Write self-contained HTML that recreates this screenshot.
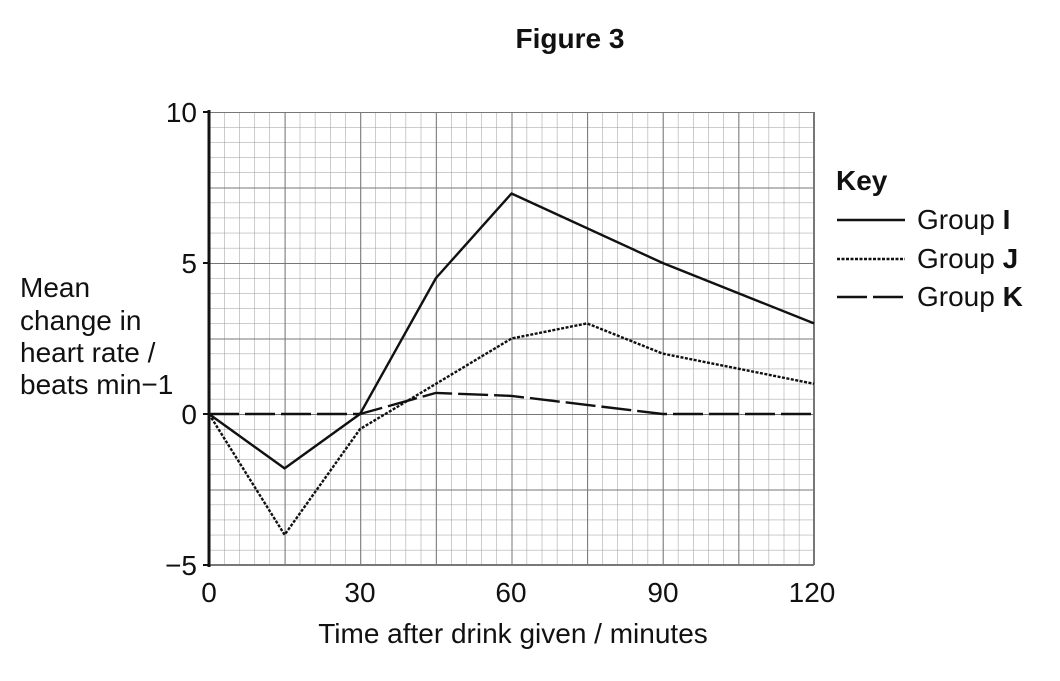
<!DOCTYPE html>
<html><head><meta charset="utf-8"><style>
body{margin:0;background:#fff;}
text{font-family:"Liberation Sans",Arial,sans-serif;fill:#111;}
</style></head><body>
<svg width="1060" height="676" viewBox="0 0 1060 676" xmlns="http://www.w3.org/2000/svg">
<defs>
<pattern id="mn" x="209" y="112" width="15.125" height="15.1" patternUnits="userSpaceOnUse">
<path d="M0 0V15.1M0 0H15.125" stroke="#999" stroke-width="1" fill="none"/>
</pattern>
<pattern id="mj" x="209" y="112" width="75.625" height="75.5" patternUnits="userSpaceOnUse">
<path d="M0 0V75.5M0 0H75.625" stroke="#777" stroke-width="2" fill="none"/>
</pattern>
</defs>
<text x="570" y="48" font-size="28" font-weight="bold" text-anchor="middle">Figure 3</text>
<rect x="209" y="112" width="605" height="453" fill="url(#mn)"/>
<rect x="209" y="112" width="605" height="453" fill="url(#mj)"/>
<line x1="814" y1="112" x2="814" y2="565" stroke="#777" stroke-width="2"/>
<line x1="209" y1="565" x2="814" y2="565" stroke="#777" stroke-width="2"/>
<line x1="209" y1="110" x2="209" y2="567" stroke="#111" stroke-width="3"/>
<line x1="203" y1="112" x2="209" y2="112" stroke="#111" stroke-width="2"/>
<line x1="203" y1="263" x2="209" y2="263" stroke="#111" stroke-width="2"/>
<line x1="203" y1="414" x2="209" y2="414" stroke="#111" stroke-width="2"/>
<line x1="203" y1="565" x2="209" y2="565" stroke="#111" stroke-width="2"/>
<g font-size="28">
<text x="197" y="122" text-anchor="end">10</text>
<text x="197" y="273" text-anchor="end">5</text>
<text x="197" y="424" text-anchor="end">0</text>
<text x="197" y="575" text-anchor="end">−5</text>
<text x="209" y="602" text-anchor="middle">0</text>
<text x="360" y="602" text-anchor="middle">30</text>
<text x="511" y="602" text-anchor="middle">60</text>
<text x="663" y="602" text-anchor="middle">90</text>
<text x="812" y="602" text-anchor="middle">120</text>
<text x="513" y="643" text-anchor="middle">Time after drink given / minutes</text>
<text x="20" y="297">Mean</text>
<text x="20" y="330">change in</text>
<text x="20" y="362">heart rate /</text>
<text x="20" y="394">beats min<tspan>−1</tspan></text>
<text x="836" y="190" font-weight="bold">Key</text>
<text x="917" y="229">Group <tspan font-weight="bold">I</tspan></text>
<text x="917" y="268">Group <tspan font-weight="bold">J</tspan></text>
<text x="917" y="306">Group <tspan font-weight="bold">K</tspan></text>
</g>
<line x1="837" y1="220" x2="905" y2="220" stroke="#111" stroke-width="2.4"/>
<line x1="837" y1="259" x2="905" y2="259" stroke="#111" stroke-width="2.4" stroke-dasharray="3,1.5"/>
<line x1="837" y1="297" x2="905" y2="297" stroke="#111" stroke-width="2.4" stroke-dasharray="30,6"/>
<g fill="none" stroke="#111" stroke-width="2.4" stroke-linejoin="round">
<polyline points="209,414 284.6,468.4 360,414 436,278 511.5,193.5 662.7,263 814,323.4"/>
<polyline stroke-dasharray="3,1.5" points="209,414 284.6,534.8 360,429.1 436,383.8 511.5,338.5 587.1,323.4 662.7,353.6 814,383.8"/>
<polyline stroke-dasharray="30,6" points="209,414 284.6,414 360,414 436,392.9 511.5,395.9 587.1,404.9 662.7,414 814,414"/>
</g>
</svg>
</body></html>
